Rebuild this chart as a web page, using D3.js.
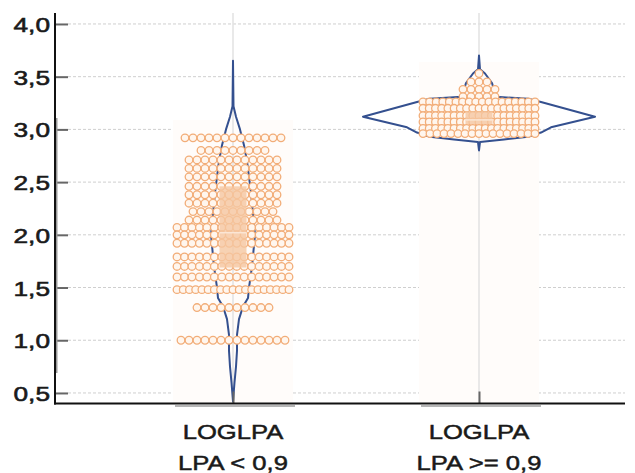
<!DOCTYPE html>
<html>
<head>
<meta charset="utf-8">
<script src="https://cdn.jsdelivr.net/npm/d3@7"></script>
<style>
body { margin: 0; background: #fff; }
</style>
</head>
<body>
<div id="chart"></div>
<script>
// DATA ========================================================================

var CATEGORIES = ["low", "high"]

var LABELS_TOP = ["LOGLPA", "LOGLPA"]

var LABELS_BOTTOM = ["LPA < 0,9", "LPA >= 0,9"]

var Y_TICKS = [0.5, 1.0, 1.5, 2.0, 2.5, 3.0, 3.5, 4.0]

// dot rows: row value and number of dots in it
var ROW_VALUES_LOW = [2.92, 2.80, 2.71, 2.63, 2.55, 2.46, 2.38, 2.30, 2.22, 2.14, 2.07, 2.00, 1.92, 1.79, 1.70, 1.60, 1.48, 1.31, 1.00]
var ROW_COUNTS_LOW = [13, 9, 12, 12, 12, 12, 12, 12, 11, 12, 16, 16, 16, 16, 16, 16, 19, 10, 14]

var ROW_VALUES_HIGH = [3.53, 3.45, 3.38, 3.31, 3.26, 3.20, 3.13, 3.07, 3.01, 2.96]
var ROW_COUNTS_HIGH = [1, 3, 5, 5, 18, 19, 19, 19, 19, 17]

// violin outline: value and density
var VIOLIN_Y_LOW = [3.65, 3.22, 3.12, 3.00, 2.85, 2.70, 2.40, 2.00, 1.70, 1.50, 1.40, 1.32, 1.20, 1.05, 0.90, 0.75, 0.60, 0.42]
var VIOLIN_D_LOW = [0, 0.01, 0.06, 0.14, 0.22, 0.28, 0.36, 0.44, 0.38, 0.32, 0.30, 0.20, 0.12, 0.08, 0.08, 0.06, 0.03, 0]

var VIOLIN_Y_HIGH = [3.70, 3.57, 3.53, 3.44, 3.31, 3.29, 3.26, 3.12, 3.02, 2.97, 2.93, 2.905, 2.88, 2.80]
var VIOLIN_D_HIGH = [0, 0.02, 0.12, 0.26, 0.34, 0.98, 1.24, 2.32, 1.44, 1.24, 0.98, 0.50, 0.02, 0]

// box: first quartile, median, third quartile
var BOX_LOW = [1.69, 2.02, 2.46]
var BOX_HIGH = [3.05, 3.09, 3.17]

// SETTINGS ====================================================================

var WIDTH = 635
var HEIGHT = 473

var FONT = "'Liberation Sans', Arial, sans-serif"

var FONT_SIZE = 21

var DOT_R = 3.8
var DOT_STEP = 8
var DOT_SPAN = 56

var BOX_HALF = 13.5

var COLORS = {
    "violin": "#34508f",
    "dot": "#f2ad78",
    "dotFill": "#fff6ee",
    "box": "#f5c7a1",
    "band": "#fffcfa",
    "grid": "#cfcfcf",
    "axis": "#111",
    "tick": "#666",
    "text": "#1a1a1a"
}

// CHART =======================================================================

var svg = d3.select("#chart").append("svg")
    .attr("width", WIDTH)
    .attr("height", HEIGHT)
    .style("font-family", FONT)

var y = d3.scaleLinear().domain([0.4, 4.104]).range([403.5, 13])
var x = d3.scalePoint().domain(CATEGORIES).range([110, 602]).padding(0.5)
var w = d3.scaleLinear().domain([0, 1]).range([0, 50])

var locale = d3.formatLocale({ "decimal": ",", "thousands": ".", "grouping": [3], "currency": ["", ""] })
var fmt = locale.format(".1f")

var groups = [
    { "key": "low", "top": 120, "rows": d3.zip(ROW_VALUES_LOW, ROW_COUNTS_LOW), "violin": d3.zip(VIOLIN_Y_LOW, VIOLIN_D_LOW), "box": BOX_LOW },
    { "key": "high", "top": 62, "rows": d3.zip(ROW_VALUES_HIGH, ROW_COUNTS_HIGH), "violin": d3.zip(VIOLIN_Y_HIGH, VIOLIN_D_HIGH), "box": BOX_HIGH }
]

// Horizontal dashed gridlines.
svg.append("g").selectAll("line")
    .data(Y_TICKS).enter()
    .append("line")
        .attr("x1", 68).attr("x2", 625)
        .attr("y1", d => y(d)).attr("y2", d => y(d))
        .attr("stroke", COLORS.grid)
        .attr("stroke-width", 1)
        .attr("stroke-dasharray", "3,2")

// Faint band behind each group and vertical gridline.
svg.append("g").selectAll("rect")
    .data(groups).enter()
    .append("rect")
        .attr("x", d => x(d.key) - 60)
        .attr("width", 120)
        .attr("y", d => d.top)
        .attr("height", d => 403.5 - d.top)
        .attr("fill", COLORS.band)

svg.append("g").selectAll("line")
    .data(CATEGORIES).enter()
    .append("line")
        .attr("x1", d => x(d)).attr("x2", d => x(d))
        .attr("y1", 13).attr("y2", 403.5)
        .attr("stroke", "#e2e2e2")
        .attr("stroke-width", 1.5)

// Violins.
var area = d3.area()
    .y(d => y(d[0]))
    .curve(d3.curveLinear)

svg.append("g").selectAll("path")
    .data(groups).enter()
    .append("path")
        .attr("d", d => {
            let c = x(d.key)
            return area.x0(p => c - w(p[1])).x1(p => c + w(p[1]))(d.violin)
        })
        .attr("fill", "none")
        .attr("stroke", COLORS.violin)
        .attr("stroke-width", 2)
        .attr("stroke-linejoin", "round")

// Dots: each row centred on the group, squeezed when wider than the span.
function layout(g) {
    let c = x(g.key)
    let out = []
    g.rows.forEach(function(r) {
        let n = r[1]
        let step = n > 1 ? Math.min(DOT_STEP, 2*DOT_SPAN/(n - 1)) : 0
        for (let i = 0; i < n; i++) {
            out.push({ "x": c + (i - (n - 1)/2)*step, "y": y(r[0]) })
        }
    })
    return out
}

groups.forEach(function(g) {
    svg.append("g").selectAll("circle")
        .data(layout(g)).enter()
        .append("circle")
            .attr("cx", d => d.x)
            .attr("cy", d => d.y)
            .attr("r", DOT_R)
            .attr("fill", COLORS.dotFill)
            .attr("stroke", COLORS.dot)
            .attr("stroke-width", 1.3)
})

// Boxes.
svg.append("g").selectAll("rect")
    .data(groups).enter()
    .append("rect")
        .attr("x", d => x(d.key) - BOX_HALF)
        .attr("width", 2*BOX_HALF)
        .attr("y", d => y(d.box[2]))
        .attr("height", d => y(d.box[0]) - y(d.box[2]))
        .attr("fill", COLORS.box)
        .attr("opacity", 0.8)

svg.append("g").selectAll("line")
    .data(groups).enter()
    .append("line")
        .attr("x1", d => x(d.key) - BOX_HALF).attr("x2", d => x(d.key) + BOX_HALF)
        .attr("y1", d => y(d.box[1])).attr("y2", d => y(d.box[1]))
        .attr("stroke", "#fbe6d5")
        .attr("stroke-width", 1.5)

// Axes.
var yAxis = svg.append("g")
    .attr("transform", "translate(55,0)")
    .call(d3.axisLeft(y).tickValues(Y_TICKS).tickFormat(fmt).tickSizeInner(-13).tickSizeOuter(0))

yAxis.select(".domain").remove()
yAxis.selectAll(".tick line").attr("stroke", COLORS.tick).attr("stroke-width", 2)
yAxis.selectAll(".tick text")
    .attr("x", 0)
    .attr("dy", "0.36em")
    .attr("transform", "translate(-5,0) scale(1.25,1)")
    .attr("font-size", FONT_SIZE)
    .attr("font-family", FONT)
    .attr("fill", COLORS.text)
    .attr("stroke", COLORS.text)
    .attr("stroke-width", 0.6)

var xAxis = svg.append("g")
    .attr("transform", "translate(0,403.5)")
    .call(d3.axisBottom(x).tickSizeInner(-12).tickSizeOuter(0).tickFormat(""))

xAxis.select(".domain").remove()
xAxis.selectAll(".tick line").attr("stroke", COLORS.tick).attr("stroke-width", 2)

// Gray range marks under the x axis and along the y axis.
svg.append("g").selectAll("line")
    .data(CATEGORIES).enter()
    .append("line")
        .attr("x1", d => x(d) - 58).attr("x2", d => x(d) + 62)
        .attr("y1", 406).attr("y2", 406)
        .attr("stroke", "#b5b5b5")
        .attr("stroke-width", 2)

svg.append("line")
    .attr("x1", 56).attr("x2", 56)
    .attr("y1", 118).attr("y2", 373)
    .attr("stroke", "#999")
    .attr("stroke-width", 3)

svg.append("line")
    .attr("x1", 55).attr("x2", 55)
    .attr("y1", 13).attr("y2", 404.5)
    .attr("stroke", COLORS.axis)
    .attr("stroke-width", 2)

svg.append("line")
    .attr("x1", 54).attr("x2", 625)
    .attr("y1", 403.5).attr("y2", 403.5)
    .attr("stroke", COLORS.axis)
    .attr("stroke-width", 2)

// Category labels.
var labels = svg.append("g").selectAll("g")
    .data(CATEGORIES).enter()
    .append("g")
        .attr("transform", d => "translate(" + x(d) + ",0)")

labels.append("text")
    .text((d, i) => LABELS_TOP[i])
    .attr("transform", "translate(0,439) scale(1.22,1)")

labels.append("text")
    .text((d, i) => LABELS_BOTTOM[i])
    .attr("transform", "translate(0,470) scale(1.22,1)")

labels.selectAll("text")
    .attr("text-anchor", "middle")
    .attr("font-size", FONT_SIZE)
    .attr("fill", COLORS.text)
    .attr("stroke", COLORS.text)
    .attr("stroke-width", 0.5)
</script>
</body>
</html>
